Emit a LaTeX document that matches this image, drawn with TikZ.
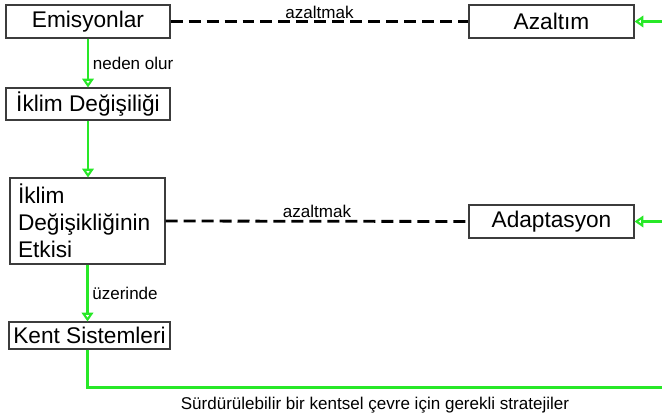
\documentclass[tikz,border=0pt]{standalone}
\usepackage{fontspec}
\setmainfont{Liberation Sans}
\usepackage{tikz}
\usetikzlibrary{arrows.meta}

\definecolor{linkgreen}{RGB}{40,232,40}
\definecolor{boxgray}{RGB}{60,60,60}

\newcommand{\boxfont}{\fontsize{12.9}{15.4}\selectfont}
\newcommand{\labelfont}{\fontsize{9.7}{11}\selectfont}

\tikzset{
  box/.style={draw=boxgray, line width=0.6pt, rectangle, inner sep=0pt, font=\boxfont},
  flow/.style={draw=linkgreen, line width=1.5pt},
  flowarrow/.style={flow, -{Triangle[open, length=5pt, width=6.5pt, line width=1.2pt]}},
  reduce/.style={draw=black, line width=1.6pt, dash pattern=on 0.24cm off 0.12cm},
  lbl/.style={font=\labelfont, inner sep=1pt, text=black}
}

\begin{document}
\begin{tikzpicture}[x=0.02cm, y=-0.02cm]
        \useasboundingbox (0,0) rectangle (662,415);

        \node (emis) [box, minimum width=3.28cm, minimum height=0.66cm] at (88,21.5) {Emisyonlar};
        \node (iklim) [box, minimum width=3.28cm, minimum height=0.64cm] at (88,104) {İklim Değişiliği};
        \node (etki) [box, minimum width=3.1cm, minimum height=1.72cm, text width=2.78cm, align=left] at (87.5,221) {İklim\\Değişikliğinin\\Etkisi};
        \node (kent) [box, minimum width=3.22cm, minimum height=0.54cm] at (89.5,335.5) {Kent Sistemleri};
        \node (azaltim) [box, minimum width=3.3cm, minimum height=0.66cm] at (551.5,21.5) {Azaltım};
        \node (adapt) [box, minimum width=3.3cm, minimum height=0.66cm] at (551.5,221.5) {Adaptasyon};

        \coordinate (corner) at (662,387.5);
        \coordinate (azin) at (662,21.5);
        \coordinate (adin) at (662,221.5);

        \draw[flowarrow] (emis) -- node[lbl, right, xshift=1pt]{neden olur} (iklim);
        \draw[flowarrow] (iklim) -- (iklim.south |- etki.north);
        \draw[flowarrow] (etki.south) -- node[lbl, right, xshift=1pt]{üzerinde} (etki.south |- kent.north);
        \draw[flow] (etki.south |- kent.south) |- (corner);
        \draw[flowarrow] (azin) -- (azaltim);
        \draw[flowarrow] (adin) -- (adapt);

        \draw[reduce] (emis) -- node[lbl, above]{azaltmak} (azaltim);
        \draw[reduce] (etki.east) -- node[lbl, above]{azaltmak} (adapt.west);

        \node (strat) [lbl] at (375,405) {Sürdürülebilir bir kentsel çevre için gerekli stratejiler};
    \end{tikzpicture}
\end{document}
